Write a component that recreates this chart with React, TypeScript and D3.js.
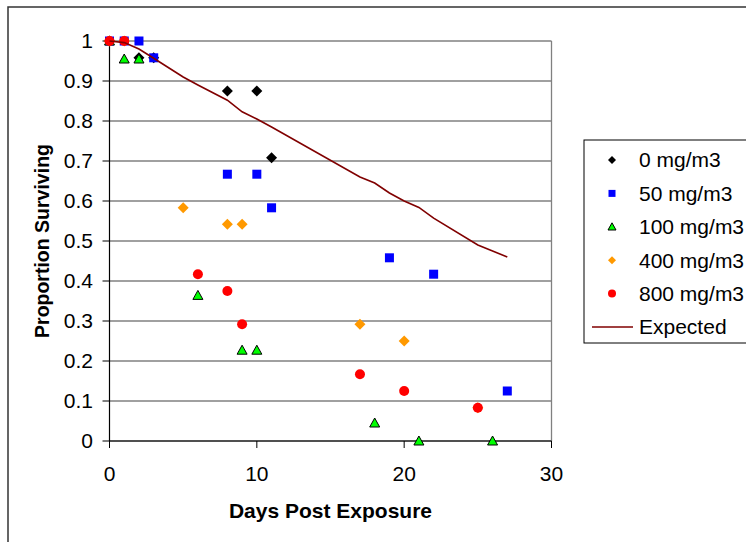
import React from "react";
import * as d3 from "d3";

const days0 = [0, 2, 3, 8, 10, 11];
const vals0 = [1, 0.958, 0.958, 0.875, 0.875, 0.708];

const days50 = [0, 1, 2, 3, 8, 10, 11, 19, 22, 27];
const vals50 = [1, 1, 1, 0.958, 0.667, 0.667, 0.583, 0.458, 0.417, 0.125];

const days100 = [0, 1, 2, 6, 9, 10, 18, 21, 26];
const vals100 = [1, 0.955, 0.955, 0.364, 0.227, 0.227, 0.045, 0, 0];

const days400 = [0, 1, 5, 8, 9, 17, 20, 25];
const vals400 = [1, 1, 0.583, 0.542, 0.542, 0.292, 0.25, 0.083];

const days800 = [0, 1, 6, 8, 9, 17, 20, 25];
const vals800 = [1, 1, 0.417, 0.375, 0.292, 0.167, 0.125, 0.083];

const expDays = [0, 1, 2, 3, 5, 6, 8, 9, 10, 11, 17, 18, 19, 20, 21, 22, 25, 26, 27];
const expVals = [1, 0.996, 0.98, 0.957, 0.91, 0.89, 0.852, 0.823, 0.805, 0.785, 0.66, 0.645, 0.62, 0.6, 0.584, 0.557, 0.49, 0.475, 0.46];

const xTicks = [0, 10, 20, 30];
const yTicks = [0, 0.1, 0.2, 0.3, 0.4, 0.5, 0.6, 0.7, 0.8, 0.9, 1];

const legendLabels = ["0 mg/m3", "50 mg/m3", "100 mg/m3", "400 mg/m3", "800 mg/m3", "Expected"];

const FONT = "'Liberation Sans', Arial, sans-serif";

type Shape = "diamond" | "square" | "triangle" | "circle";

function Marker({ shape, x, y, fill, size }: { shape: Shape; x: number; y: number; fill: string; size: number }) {
  const h = size / 2;
  if (shape === "diamond") {
    return <path d={`M${x},${y - h}L${x + h},${y}L${x},${y + h}L${x - h},${y}Z`} fill={fill} />;
  }
  if (shape === "square") {
    return <rect x={x - h} y={y - h} width={size} height={size} fill={fill} />;
  }
  if (shape === "circle") {
    return <circle cx={x} cy={y} r={h} fill={fill} />;
  }
  return (
    <path
      d={`M${x},${y - h}L${x + h},${y + h * 0.8}L${x - h},${y + h * 0.8}Z`}
      fill={fill}
      stroke="#000"
      strokeWidth={1}
    />
  );
}

export default function App() {
  const left = 109.5;
  const right = 551.5;
  const top = 41;
  const bottom = 441;
  const x = d3.scaleLinear().domain([0, 30]).range([left, right]);
  const y = d3.scaleLinear().domain([0, 1]).range([bottom, top]);

  const series = [
    { days: days0, vals: vals0, shape: "diamond" as Shape, fill: "#000000", size: 11, lsize: 8 },
    { days: days50, vals: vals50, shape: "square" as Shape, fill: "#0000FF", size: 9, lsize: 7 },
    { days: days100, vals: vals100, shape: "triangle" as Shape, fill: "#00FF00", size: 10, lsize: 8 },
    { days: days400, vals: vals400, shape: "diamond" as Shape, fill: "#FF9900", size: 11, lsize: 8 },
    { days: days800, vals: vals800, shape: "circle" as Shape, fill: "#FF0000", size: 10, lsize: 8 },
  ];

  const line = d3
    .line<number>()
    .x((d, i) => x(expDays[i]))
    .y((d) => y(d));

  const legY = d3.scaleLinear().domain([0, 5]).range([160, 327]);

  return (
    <svg
      width={746}
      height={542}
      style={{ position: "absolute", left: 0, top: 0, background: "#fff" }}
      fontFamily={FONT}
    >
      <rect x={8} y={7} width={800} height={600} fill="#fff" stroke="#333" strokeWidth={1.5} />
      {/* gridlines */}
      {yTicks.map((t) => (
        <line key={"g" + t} x1={left} x2={right} y1={y(t)} y2={y(t)} stroke="#808080" strokeWidth={1.3} />
      ))}
      <line x1={right} x2={right} y1={top} y2={bottom} stroke="#808080" strokeWidth={1.3} />
      {/* axes */}
      <line x1={left} x2={left} y1={top} y2={bottom} stroke="#000" strokeWidth={1.2} />
      <line x1={left} x2={right} y1={bottom} y2={bottom} stroke="#000" strokeWidth={1.2} />
      {yTicks.map((t) => (
        <g key={"y" + t}>
          <line x1={left - 7} x2={left} y1={y(t)} y2={y(t)} stroke="#000" strokeWidth={1} />
          <text x={93} y={y(t)} dy="0.35em" textAnchor="end" fontSize={21} fill="#000">
            {d3.format("~g")(t)}
          </text>
        </g>
      ))}
      {xTicks.map((t) => (
        <g key={"x" + t}>
          <line x1={x(t)} x2={x(t)} y1={bottom} y2={bottom + 7} stroke="#000" strokeWidth={1} />
          <text x={x(t)} y={481} textAnchor="middle" fontSize={21} fill="#000">
            {t}
          </text>
        </g>
      ))}
      <text x={(left + right) / 2} y={518} textAnchor="middle" fontSize={21} fontWeight="bold" fill="#000">
        Days Post Exposure
      </text>
      <text
        transform={`translate(49,${(top + bottom) / 2}) rotate(-90)`}
        textAnchor="middle"
        fontSize={19.5}
        fontWeight="bold"
        fill="#000"
      >
        Proportion Surviving
      </text>
      {/* markers */}
      {series.map((s, si) => (
        <g key={"s" + si}>
          {s.days.map((dd, i) => (
            <Marker key={i} shape={s.shape} x={x(dd)} y={y(s.vals[i])} fill={s.fill} size={s.size} />
          ))}
        </g>
      ))}
      <path d={line(expVals) || ""} fill="none" stroke="#800000" strokeWidth={1.6} />
      {/* legend */}
      <rect x={584} y={140} width={200} height={203} fill="#fff" stroke="#000" strokeWidth={1} />
      {series.map((s, si) => (
        <g key={"l" + si}>
          <Marker shape={s.shape} x={612} y={legY(si)} fill={s.fill} size={s.lsize} />
          <text x={639} y={legY(si)} dy="0.35em" fontSize={21} fill="#000">
            {legendLabels[si]}
          </text>
        </g>
      ))}
      <line x1={592} x2={633} y1={legY(5)} y2={legY(5)} stroke="#800000" strokeWidth={1.6} />
      <text x={639} y={legY(5)} dy="0.35em" fontSize={21} fill="#000">
        {legendLabels[5]}
      </text>
    </svg>
  );
}
